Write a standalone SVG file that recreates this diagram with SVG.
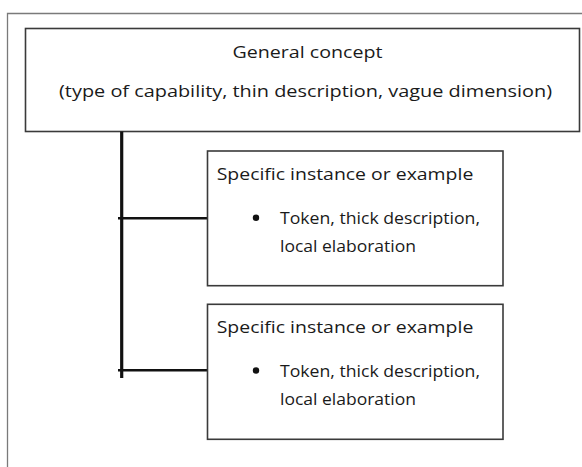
<svg xmlns="http://www.w3.org/2000/svg" width="582" height="467" viewBox="0 0 582 467">
<style>
.box{fill:#fff;stroke:#3a3a3a;stroke-width:1.6}
.frame{fill:none;stroke:#7a7a7a;stroke-width:1.3}
.conn{stroke:#111;fill:none}
.t{font-family:"Open Sans","Liberation Sans",sans-serif;font-size:16px;fill:#1a1a1a}
</style>
<rect width="582" height="467" fill="#fff"/>
<path class="frame" d="M7.5,475 V13.5 H590"/>
<g id="general">
<rect class="box" x="25.5" y="28.5" width="554" height="103"/>
<text class="t" x="232.5" y="58" textLength="150" lengthAdjust="spacingAndGlyphs">General concept</text>
<text class="t" x="59" y="97" textLength="493" lengthAdjust="spacingAndGlyphs">(type of capability, thin description, vague dimension)</text>
</g>
<g id="connectors">
<line class="conn" x1="121.7" y1="131.5" x2="121.7" y2="378" stroke-width="3.2"/>
<line class="conn" x1="118" y1="218.3" x2="207.5" y2="218.3" stroke-width="2.6"/>
<line class="conn" x1="118" y1="370.3" x2="207.5" y2="370.3" stroke-width="2.6"/>
</g>
<g id="instance1">
<rect class="box" x="207.5" y="151" width="295.5" height="134.7"/>
<text class="t" x="216.7" y="180" textLength="256.6" lengthAdjust="spacingAndGlyphs">Specific instance or example</text>
<circle cx="256" cy="217.7" r="3.2" fill="#111"/>
<text class="t" x="280" y="223.5" textLength="200" lengthAdjust="spacingAndGlyphs">Token, thick description,</text>
<text class="t" x="280" y="252" textLength="136" lengthAdjust="spacingAndGlyphs">local elaboration</text>
</g>
<g id="instance2">
<rect class="box" x="207.5" y="304.3" width="295.5" height="135"/>
<text class="t" x="216.7" y="332.5" textLength="256.6" lengthAdjust="spacingAndGlyphs">Specific instance or example</text>
<circle cx="256" cy="370.5" r="3.2" fill="#111"/>
<text class="t" x="280" y="376.5" textLength="200" lengthAdjust="spacingAndGlyphs">Token, thick description,</text>
<text class="t" x="280" y="405" textLength="136" lengthAdjust="spacingAndGlyphs">local elaboration</text>
</g>
</svg>
